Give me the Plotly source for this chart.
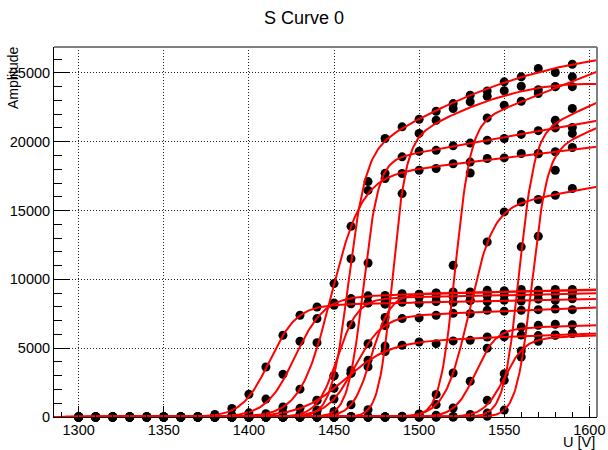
import numpy as np
import plotly.graph_objects as go

# ---------------- data ----------------
voltage = [1300, 1310, 1320, 1330, 1340, 1350, 1360, 1370, 1380, 1390,
           1400, 1410, 1420, 1430, 1440, 1450, 1460, 1470, 1480, 1490,
           1500, 1510, 1520, 1530, 1540, 1550, 1560, 1570, 1580, 1590]

ch_a = [0, 0, 0, 0, 0, 5, 15, 45, 190, 620, 1650, 3630, 5940, 7390, 7990,
        8120, 8230, 8300, 8200, 8340, 8260, 8390, 8330, 8450, 8380, 8480, 8420, 8560, 8470, 8590]
ch_b = [0, 0, 0, 0, 0, 0, 5, 15, 35, 110, 300, 1300, 3100, 5500, 7150,
        8280, 8600, 8800, 8830, 8950, 8900, 9010, 8960, 9080, 9020, 9160, 9100, 9200, 9150, 9260]
ch_c = [0, 0, 0, 0, 0, 0, 0, 0, 0, 0, 0, 8, 40, 210, 1210,
        3000, 6700, 8280, 8480, 8720, 8700, 8760, 8740, 8820, 8800, 8860, 8840, 8920, 8900, 8970]
ch_d = [0, 0, 0, 0, 0, 0, 0, 0, 0, 0, 0, 10, 37, 128, 430,
        1310, 3170, 5330, 6640, 7150, 7200, 7390, 7530, 7510, 7750, 7690, 7750, 7800, 7840, 7800]
ch_e = [0, 0, 0, 0, 0, 0, 0, 5, 15, 31, 68, 146, 310, 630, 1205,
        2080, 3390, 4120, 4760, 5210, 5450, 5330, 5530, 5570, 5810, 5820, 5950, 5915, 5960, 6060]
ch_f = [0, 0, 0, 0, 0, 0, 0, 0, 0, 0, 0, 0, 5, 12, 27,
        160, 890, 3650, 7225, 8615, 8915, 8990, 9080, 9040, 9200, 9160, 9260, 9080, 9260, 9160]
ch_g = [0, 0, 0, 0, 0, 0, 0, 0, 0, 0, 0, 0, 0, 0, 0,
        0, 0, 0, 0, 0, 25, 135, 650, 2600, 5000, 6010, 6540, 6660, 6740, 6700]
ch_h = [0, 0, 0, 0, 0, 0, 0, 0, 0, 0, 0, 0, 0, 0, 0,
        0, 0, 0, 0, 0, 0, 7, 37, 190, 1210, 2670, 4800, 5500, 5940, 6060]
ch_i = [0, 0, 0, 0, 0, 0, 0, 0, 5, 26, 80, 243, 725, 2025, 5400,
        9690, 13850, 16460, 17320, 17690, 17930, 18050, 18400, 18520, 18780, 18820, 19140, 19120, 19270, 19580]
ch_j = [0, 0, 0, 0, 0, 0, 0, 0, 0, 0, 0, 0, 10, 70, 500,
        3000, 11500, 17100, 20230, 21080, 21630, 22210, 22770, 23380, 23690, 24350, 24710, 25320, 25030, 25630]
ch_k = [0, 0, 0, 0, 0, 0, 0, 0, 0, 0, 0, 0, 0, 0, 45,
        400, 3190, 11190, 17700, 18900, 19300, 19370, 19700, 19900, 20100, 20230, 20530, 20800, 21000, 21030]
ch_l = [0, 0, 0, 0, 0, 0, 0, 0, 0, 0, 0, 0, 0, 0, 0,
        0, 43, 530, 5150, 16230, 20600, 21560, 22410, 22900, 23300, 23700, 24030, 23780, 24000, 24000]
ch_m = [0, 0, 0, 0, 0, 0, 0, 0, 0, 0, 0, 0, 0, 0, 0,
        0, 0, 0, 0, 20, 185, 1640, 11020, 17730, 21730, 22650, 22940, 23500, 24000, 24710]
ch_n = [0, 0, 0, 0, 0, 0, 0, 0, 0, 0, 0, 0, 0, 0, 0,
        0, 0, 0, 0, 54, 225, 900, 3200, 8480, 12720, 14900, 15620, 15800, 16110, 16600]
ch_o = [0, 0, 0, 0, 0, 0, 0, 0, 0, 0, 0, 0, 0, 0, 0,
        0, 0, 0, 0, 0, 0, 0, 0, 31, 285, 3150, 12360, 19140, 21560, 22410]
ch_p = [0, 0, 0, 0, 0, 0, 0, 0, 0, 0, 0, 0, 0, 0, 0,
        0, 0, 0, 0, 0, 0, 0, 0, 0, 53, 500, 4360, 13130, 17930, 20600]

channels = [ch_a, ch_b, ch_c, ch_d, ch_e, ch_f, ch_g, ch_h,
            ch_i, ch_j, ch_k, ch_l, ch_m, ch_n, ch_o, ch_p]

# fitted S-curve parameters (one per channel):
# f(U) = (p0 + p1*d + p2*d^2) / (1 + exp(-d/w)),  d = U - x0
fit_x0 = [1412, 1427, 1452, 1462, 1456, 1472, 1533, 1550,
          1448, 1458, 1467, 1484, 1521, 1529, 1558.5, 1566]
fit_w = [8, 8.5, 6, 8, 13, 5.5, 6, 6,
         9, 5, 4.5, 4, 4.5, 7, 4.5, 4.5]
fit_p0 = [8100, 8700, 8600, 7250, 5400, 8900, 6400, 5700,
          17300, 18600, 18500, 19479, 21000, 15000, 20300, 19000]
fit_p1 = [2.5, 3.2, 2.5, 5, 4.5, 2.5, 3.7, 4,
          14.9, 82, 22, 82, 49, 23, 55, 52]
fit_p2 = [0, 0, 0, 0, 0, 0, 0, 0,
          0, -0.219, 0, -0.356, 0, 0, 0, 0]

x_range = [1285.5, 1604.5]
y_range = [0, 26880]
x_ticks = [1300, 1350, 1400, 1450, 1500, 1550, 1600]
y_ticks = [0, 5000, 10000, 15000, 20000, 25000]

# ---------------- figure ----------------
fig = go.Figure()

for ch in channels:
    fig.add_trace(go.Scatter(
        x=voltage, y=ch, mode="markers",
        marker=dict(color="black", size=9, line=dict(width=0)),
        cliponaxis=False, hoverinfo="skip"))

xs = np.linspace(x_range[0], x_range[1], 400)
for x0, w, p0, p1, p2 in zip(fit_x0, fit_w, fit_p0, fit_p1, fit_p2):
    d = xs - x0
    ys = (p0 + p1 * d + p2 * d * d) / (1.0 + np.exp(-d / w))
    fig.add_trace(go.Scatter(
        x=xs, y=ys, mode="lines",
        line=dict(color="#ff0000", width=2), hoverinfo="skip"))

font_family = "Liberation Sans, Arial, Helvetica, sans-serif"

FIG_W, FIG_H = 608, 450
ML, MR, MT, MB = 54, 11, 47, 33

fig.update_layout(
    width=FIG_W, height=FIG_H,
    margin=dict(l=ML, r=MR, t=MT, b=MB, autoexpand=False),
    paper_bgcolor="white", plot_bgcolor="white",
    showlegend=False,
    font=dict(family=font_family, size=14.5, color="black"),
    title=dict(text="S Curve 0", x=304 / FIG_W, xref="container", xanchor="center",
               y=1 - 18 / FIG_H, yref="container", yanchor="middle",
               font=dict(family=font_family, size=18, color="black")),
)

fig.update_xaxes(
    range=x_range, tickvals=x_ticks, ticktext=[str(v) for v in x_ticks],
    ticks="inside", ticklen=11, tickwidth=1, tickcolor="black",
    showgrid=True, gridcolor="#222", gridwidth=1, griddash="1px,2px",
    showline=True, linecolor="black", linewidth=1, mirror=False,
    zeroline=False, ticklabeloverflow="allow",
    minor=dict(dtick=10, ticks="inside", ticklen=5, tickcolor="black", showgrid=False),
    tickfont=dict(size=14.5),
)
fig.update_yaxes(
    range=y_range, tickvals=y_ticks, ticktext=[str(v) for v in y_ticks],
    ticks="inside", ticklen=16, tickwidth=1, tickcolor="black",
    showgrid=True, gridcolor="#222", gridwidth=1, griddash="1px,2px",
    showline=True, linecolor="black", linewidth=1, mirror=False,
    zeroline=False,
    minor=dict(dtick=1000, ticks="inside", ticklen=8, tickcolor="black", showgrid=False),
    tickfont=dict(size=14.5),
)

# ROOT-like frame (top and right edges)
fig.add_shape(type="line", xref="paper", yref="paper", x0=0, x1=1, y0=1, y1=1,
              line=dict(color="#808080", width=2), layer="above")
fig.add_shape(type="line", xref="paper", yref="paper", x0=1, x1=1, y0=0, y1=1,
              line=dict(color="#808080", width=2), layer="above")

plot_w = FIG_W - ML - MR
plot_h = FIG_H - MT - MB
bottom_px = MT + plot_h
fig.add_annotation(text="Amplitude", xref="paper", yref="paper",
                   x=(13 - ML) / plot_w, y=(bottom_px - 78) / plot_h,
                   xanchor="center", yanchor="middle", textangle=-90,
                   showarrow=False, font=dict(size=14, family=font_family, color="black"))
fig.add_annotation(text="U [V]", xref="paper", yref="paper",
                   x=1, y=(bottom_px - 442) / plot_h,
                   xanchor="right", yanchor="middle",
                   showarrow=False, font=dict(size=14.5, family=font_family, color="black"))

fig.write_html("out.html",
               config={"displayModeBar": False},
               post_script="document.body.style.margin='0';"
                           "document.body.style.overflow='hidden';")
